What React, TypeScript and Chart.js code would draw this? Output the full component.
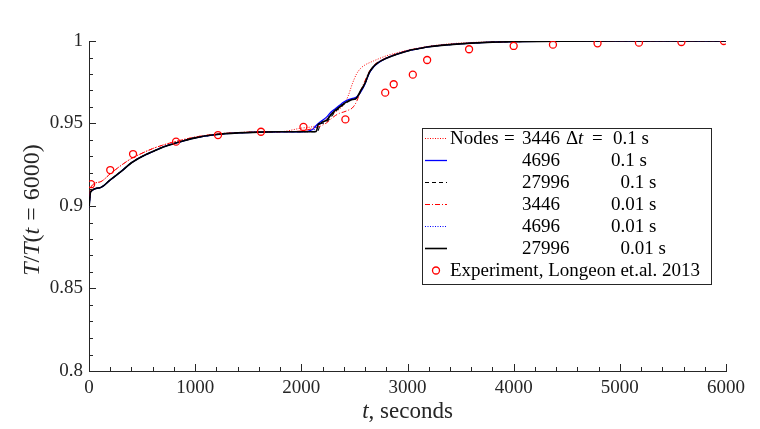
import { useEffect, useRef } from 'react';
import { Chart, registerables } from 'chart.js';
import type { ChartConfiguration, Plugin } from 'chart.js';

Chart.register(...registerables);

const FONT = '"Liberation Serif", "Times New Roman", serif';
const INK = '#262626';

// simulation output, sampled at these times (s)
const TIME = [
  0, 15, 100, 200, 300, 400, 500, 600, 700, 800, 1000, 1200, 1400, 1600, 1800, 2000,
  2100, 2140, 2160, 2180, 2200, 2240, 2280, 2320, 2360, 2400, 2440, 2480, 2520, 2560,
  2600, 2640, 2680, 2720, 2800, 2900, 3000, 3100, 3200, 3400, 3600, 3800, 4000, 4500,
  5000, 6000,
];

const N3446_DT01 = [
  0.899, 0.911, 0.9145, 0.9195, 0.9245, 0.9288, 0.932, 0.9348, 0.937, 0.9388, 0.9418, 0.9436, 0.9445, 0.9449, 0.945, 0.9472,
  0.948, 0.9488, 0.9494, 0.95, 0.9506, 0.953, 0.9555, 0.957, 0.9588, 0.9615, 0.9665, 0.974, 0.98, 0.9835,
  0.9855, 0.9868, 0.9879, 0.989, 0.991, 0.9928, 0.9944, 0.9957, 0.9968, 0.9983, 0.9991, 0.9995, 0.9998, 1.0,
  1.0, 1.0,
];

const N4696_DT01 = [
  0.899, 0.9085, 0.911, 0.9158, 0.9208, 0.9262, 0.93, 0.933, 0.9358, 0.9378, 0.9413, 0.9433, 0.9443, 0.9448, 0.945, 0.945,
  0.9462, 0.9488, 0.95, 0.951, 0.952, 0.954, 0.957, 0.959, 0.961, 0.963, 0.9644, 0.9652, 0.966, 0.9692,
  0.974, 0.9805, 0.9842, 0.9866, 0.9895, 0.992, 0.994, 0.9953, 0.9965, 0.9978, 0.9987, 0.9993, 0.9996, 0.9999,
  1.0, 1.0,
];

const N27996_DT01 = [
  0.899, 0.9085, 0.911, 0.9158, 0.9208, 0.9262, 0.93, 0.933, 0.9358, 0.9378, 0.9413, 0.9433, 0.9443, 0.9448, 0.945, 0.945,
  0.945, 0.945, 0.946, 0.9498, 0.9502, 0.9512, 0.954, 0.9572, 0.9594, 0.9615, 0.9632, 0.9643, 0.9653, 0.9695,
  0.9742, 0.9808, 0.9844, 0.9868, 0.9895, 0.992, 0.994, 0.9953, 0.9965, 0.9978, 0.9987, 0.9993, 0.9996, 0.9999,
  1.0, 1.0,
];

const N3446_DT001 = [
  0.899, 0.911, 0.9145, 0.9195, 0.9245, 0.9288, 0.932, 0.9348, 0.937, 0.9388, 0.9418, 0.9436, 0.9445, 0.9449, 0.945, 0.9455,
  0.9468, 0.9476, 0.948, 0.9484, 0.949, 0.9505, 0.9528, 0.9548, 0.9562, 0.957, 0.958, 0.9594, 0.9632, 0.97,
  0.976, 0.9815, 0.985, 0.9872, 0.9898, 0.9922, 0.9942, 0.9955, 0.9966, 0.9979, 0.9988, 0.9993, 0.9996, 0.9999,
  1.0, 1.0,
];

const N4696_DT001 = [
  0.899, 0.9085, 0.911, 0.9158, 0.9208, 0.9262, 0.93, 0.933, 0.9358, 0.9378, 0.9413, 0.9433, 0.9443, 0.9448, 0.945, 0.945,
  0.9452, 0.9478, 0.949, 0.9496, 0.9506, 0.9526, 0.956, 0.9585, 0.9605, 0.9625, 0.9638, 0.9648, 0.9657, 0.9698,
  0.9744, 0.9808, 0.9845, 0.9868, 0.9895, 0.992, 0.994, 0.9953, 0.9965, 0.9978, 0.9987, 0.9993, 0.9996, 0.9999,
  1.0, 1.0,
];

const N27996_DT001 = [
  0.899, 0.9085, 0.911, 0.9158, 0.9208, 0.9262, 0.93, 0.933, 0.9358, 0.9378, 0.9413, 0.9433, 0.9443, 0.9448, 0.945, 0.945,
  0.945, 0.9452, 0.9495, 0.95, 0.951, 0.952, 0.9555, 0.958, 0.96, 0.962, 0.9635, 0.9645, 0.9655, 0.97,
  0.9745, 0.981, 0.9845, 0.9868, 0.9895, 0.992, 0.994, 0.9953, 0.9965, 0.9978, 0.9987, 0.9993, 0.9996, 0.9999,
  1.0, 1.0,
];

// Longeon et al. 2013
const EXP_TIME = [20, 200, 415, 820, 1215, 1620, 2020, 2415, 2790, 2870, 3050, 3185, 3580, 4000, 4370, 4790, 5180, 5580, 5980];
const EXP_VALUE = [
  0.9132, 0.9218, 0.9315, 0.939, 0.943, 0.945, 0.9479, 0.9525, 0.9687, 0.9738, 0.9796, 0.9885, 0.995,
  0.997, 0.9978, 0.9986, 0.999, 0.9994, 1.0,
];

const LEGEND_NODES = ['3446', '4696', '27996', '3446', '4696', '27996'];
const LEGEND_DT = ['0.1 s', '0.1 s', '0.1 s', '0.01 s', '0.01 s', '0.01 s'];
const EXP_LABEL = 'Experiment, Longeon et.al. 2013';

const X_MIN = 0;
const X_MAX = 6000;
const X_MAJOR = 1000;
const X_MINOR = 200;
const Y_MIN = 0.8;
const Y_MAX = 1;
const Y_MAJOR = 0.05;
const Y_MINOR = 0.01;

const LEGEND_SIZE = 19;

const toPoints = (ys: number[]) => TIME.map((t, i) => ({ x: t, y: ys[i] }));

function font(size: number, italic = false) {
  return `${italic ? 'italic ' : ''}${size}px ${FONT}`;
}

type Piece = { text: string; italic?: boolean; pad?: number };

function drawPieces(ctx: CanvasRenderingContext2D, pieces: Piece[], x: number, y: number, size: number) {
  const widths = pieces.map(p => {
    ctx.font = font(size, p.italic);
    return ctx.measureText(p.text).width + (p.pad ?? 0) * 2;
  });
  let cx = x - widths.reduce((a, b) => a + b, 0) / 2;
  pieces.forEach((p, i) => {
    ctx.font = font(size, p.italic);
    ctx.fillText(p.text, cx + (p.pad ?? 0), y);
    cx += widths[i];
  });
}

const axisDecor: Plugin = {
  id: 'axisDecor',
  afterDraw(chart) {
    const { ctx, chartArea, scales } = chart;
    const xs = scales.x;
    const ys = scales.y;
    ctx.save();
    ctx.strokeStyle = INK;
    ctx.lineWidth = 1;
    ctx.beginPath();
    const nx = Math.round((X_MAX - X_MIN) / X_MINOR);
    for (let k = 0; k <= nx; k++) {
      const t = X_MIN + k * X_MINOR;
      const px = Math.round(xs.getPixelForValue(t)) + 0.5;
      const len = (k * X_MINOR) % X_MAJOR === 0 ? 7 : 4;
      ctx.moveTo(px, chartArea.bottom);
      ctx.lineTo(px, chartArea.bottom - len);
    }
    const ny = Math.round((Y_MAX - Y_MIN) / Y_MINOR);
    const per = Math.round(Y_MAJOR / Y_MINOR);
    for (let k = 0; k <= ny; k++) {
      const v = Y_MIN + k * Y_MINOR;
      const py = Math.round(ys.getPixelForValue(v)) + 0.5;
      const len = k % per === 0 ? 7 : 4;
      ctx.moveTo(chartArea.left, py);
      ctx.lineTo(chartArea.left + len, py);
    }
    ctx.stroke();

    // axis titles
    ctx.fillStyle = INK;
    ctx.textBaseline = 'alphabetic';
    ctx.textAlign = 'left';
    const midX = (chartArea.left + chartArea.right) / 2;
    drawPieces(ctx, [{ text: 't', italic: true }, { text: ', seconds' }], midX, 418, 23);

    ctx.translate(39, 210);
    ctx.rotate(-Math.PI / 2);
    drawPieces(
      ctx,
      [
        { text: 'T', italic: true },
        { text: '/' },
        { text: 'T', italic: true },
        { text: '(' },
        { text: 't', italic: true },
        { text: '=', pad: 7 },
        { text: '6000)' },
      ],
      0,
      0,
      24,
    );
    ctx.restore();
  },
};

const boxLegend: Plugin = {
  id: 'boxLegend',
  afterDatasetsDraw(chart) {
    const { ctx } = chart;
    const left = 422.5;
    const top = 128.5;
    const w = 289;
    const h = 156;
    const rowH = 22;
    const base0 = 144;
    ctx.save();
    ctx.fillStyle = '#ffffff';
    ctx.fillRect(left, top, w, h);
    ctx.strokeStyle = INK;
    ctx.lineWidth = 1;
    ctx.strokeRect(left, top, w, h);

    ctx.fillStyle = '#000000';
    ctx.textBaseline = 'alphabetic';
    ctx.textAlign = 'left';
    const sim = chart.data.datasets.slice(0, LEGEND_NODES.length);
    sim.forEach((ds: any, i) => {
      const base = base0 + i * rowH;
      const ly = base - 5.5;
      ctx.save();
      ctx.strokeStyle = ds.borderColor;
      ctx.lineWidth = ds.borderWidth;
      ctx.setLineDash(ds.borderDash ?? []);
      ctx.beginPath();
      ctx.moveTo(425, ly);
      ctx.lineTo(447, ly);
      ctx.stroke();
      ctx.restore();

      ctx.fillStyle = '#000000';
      if (i === 0) {
        const parts: [string, number, boolean][] = [
          ['Nodes', 450, false],
          ['=', 504, false],
          [LEGEND_NODES[0], 522, false],
          ['\u0394', 566, false],
          ['t', 578, true],
          ['=', 592, false],
          [LEGEND_DT[0], 613, false],
        ];
        parts.forEach(([txt, x, it]) => {
          ctx.font = font(LEGEND_SIZE, it);
          ctx.fillText(txt, x, base);
        });
      } else {
        ctx.font = font(LEGEND_SIZE);
        ctx.fillText(LEGEND_NODES[i], 522, base);
        const nw = ctx.measureText(LEGEND_NODES[i]).width;
        ctx.fillText(LEGEND_DT[i], 522 + nw + 51, base);
      }
    });

    const base = base0 + LEGEND_NODES.length * rowH;
    ctx.strokeStyle = '#ff0000';
    ctx.lineWidth = 1.3;
    ctx.beginPath();
    ctx.arc(436, base - 5.5, 3.5, 0, Math.PI * 2);
    ctx.stroke();
    ctx.fillStyle = '#000000';
    ctx.font = font(LEGEND_SIZE);
    ctx.fillText(EXP_LABEL, 450, base);
    ctx.restore();
  },
};

function simLine(data: number[], color: string, width: number, dash: number[], order: number) {
  return {
    type: 'line' as const,
    data: toPoints(data),
    borderColor: color,
    borderWidth: width,
    borderDash: dash,
    pointRadius: 0,
    fill: false,
    cubicInterpolationMode: 'monotone' as const,
    order,
  };
}

export default function App() {
  const canvasRef = useRef<HTMLCanvasElement>(null);
  const chartRef = useRef<Chart | null>(null);

  useEffect(() => {
    document.body.style.margin = '0';
    if (!canvasRef.current) return;
    const ctx = canvasRef.current.getContext('2d');
    if (!ctx) return;

    const config: ChartConfiguration = {
      type: 'line',
      data: {
        datasets: [
          simLine(N3446_DT01, '#ff0000', 1, [1, 1.5], 6),
          simLine(N4696_DT01, '#0000ff', 1.3, [], 5),
          simLine(N27996_DT01, '#000000', 1.1, [4, 3], 4),
          simLine(N3446_DT001, '#ff0000', 1, [5, 2, 1, 2], 3),
          simLine(N4696_DT001, '#0000ff', 1.1, [1, 1.5], 2),
          simLine(N27996_DT001, '#000000', 1.6, [], 1),
          {
            type: 'line',
            data: EXP_TIME.map((t, i) => ({ x: t, y: EXP_VALUE[i] })),
            showLine: false,
            pointRadius: 3.5,
            pointBorderWidth: 1.3,
            pointBorderColor: '#ff0000',
            pointBackgroundColor: 'rgba(0,0,0,0)',
            order: 0,
          },
        ],
      } as any,
      options: {
        responsive: true,
        maintainAspectRatio: false,
        animation: false,
        events: [],
        layout: { padding: { left: 0, top: 41, right: 34, bottom: 0 } },
        plugins: {
          legend: { display: false },
          tooltip: { enabled: false },
        },
        scales: {
          x: {
            type: 'linear',
            min: X_MIN,
            max: X_MAX,
            grid: { display: false, drawTicks: false },
            border: { display: true, color: INK, width: 1 },
            ticks: {
              stepSize: X_MAJOR,
              color: INK,
              padding: 6,
              maxRotation: 0,
              font: { family: FONT, size: 19 },
              callback: v => String(v),
            },
            afterFit: scale => {
              scale.height = 58;
            },
          },
          y: {
            type: 'linear',
            min: Y_MIN,
            max: Y_MAX,
            grid: { display: false, drawTicks: false },
            border: { display: true, color: INK, width: 1 },
            ticks: {
              stepSize: Y_MAJOR,
              color: INK,
              padding: 6,
              font: { family: FONT, size: 19 },
              callback: v => String(parseFloat(Number(v).toFixed(2))),
            },
            afterFit: scale => {
              scale.width = 89;
            },
          },
        },
      },
      plugins: [axisDecor, boxLegend],
    };

    if (chartRef.current) chartRef.current.destroy();
    chartRef.current = new Chart(ctx, config);

    return () => {
      if (chartRef.current) {
        chartRef.current.destroy();
        chartRef.current = null;
      }
    };
  }, []);

  return (
    <div style={{ position: 'relative', width: 760, height: 429, background: '#ffffff' }}>
      <canvas ref={canvasRef} />
    </div>
  );
}
